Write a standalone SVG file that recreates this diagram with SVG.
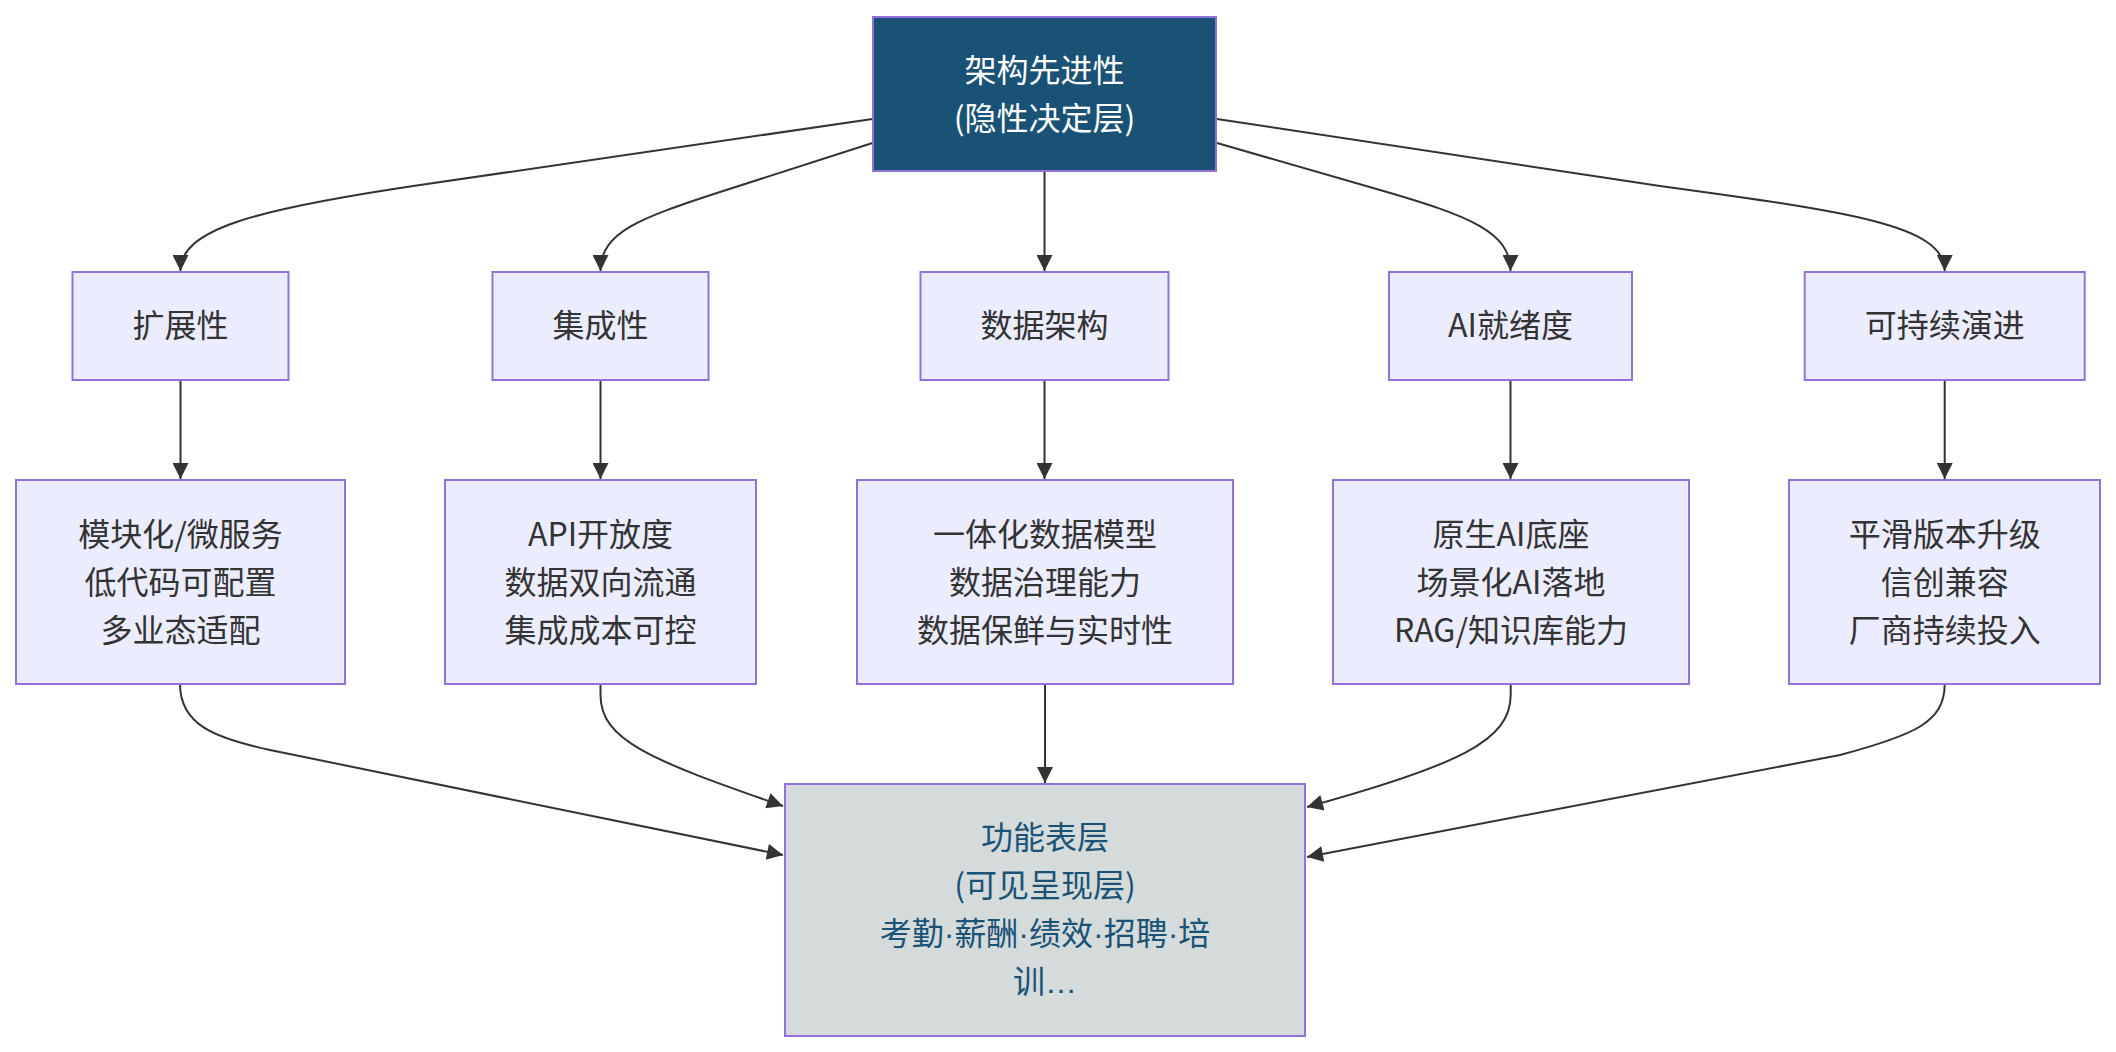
<svg xmlns="http://www.w3.org/2000/svg" width="2116" height="1052" viewBox="0 0 2116 1052">
<style>
.bg{fill:#ffffff}
.n rect{fill:#ECECFF;stroke:#9370DB;stroke-width:2}
.n text{fill:#333333}
.top rect{fill:#1a5276;stroke:#9370DB;stroke-width:2}
.top text{fill:#ffffff}
.bot rect{fill:#d5dbdb;stroke:#9370DB;stroke-width:2}
.bot text{fill:#1a5276}
text{font-family:"Noto Sans CJK SC","Noto Sans",sans-serif;font-size:32px;text-anchor:middle}
.p{font-family:"Liberation Sans",sans-serif}
.e path{fill:none;stroke:#333333;stroke-width:2;marker-end:url(#arr)}
</style>
<defs>
<marker id="arr" viewBox="0 0 10 10" refX="10" refY="5" markerUnits="userSpaceOnUse" markerWidth="17" markerHeight="16" orient="auto">
<path d="M0,0 L10,5 L0,10 z" fill="#333333"/>
</marker>
</defs>
<rect class="bg" x="0" y="0" width="2116" height="1052"/>
<g class="e" id="connectors">
<path d="M872.5,119 L420,185 C250,210 180.5,230 180.5,271"/>
<path d="M872.5,143 L720,192 C640,218 600.5,232 600.5,271"/>
<path d="M1044.5,172 L1044.5,271"/>
<path d="M1217,143 L1380,190 C1470,216 1510.5,232 1510.5,271"/>
<path d="M1217,119 L1660,186 C1850,212 1944.7,225 1944.7,271"/>
<path d="M180.5,380 L180.5,479"/>
<path d="M600.5,380 L600.5,479"/>
<path d="M1044.5,380 L1044.5,479"/>
<path d="M1510.5,380 L1510.5,479"/>
<path d="M1944.7,380 L1944.7,479"/>
<path d="M180,684 C180,725 215,738 270,750 L783,855"/>
<path d="M600.5,684 L600.5,695 C600.5,740 650,760 783,806"/>
<path d="M1045,684 L1045,783"/>
<path d="M1510.7,684 L1510.7,695 C1510.7,740 1460,765 1307,807"/>
<path d="M1944.7,684 C1944.7,722 1915,735 1840,755 L1307,857"/>
</g>
<g class="top" id="root">
<rect x="873" y="17" width="343" height="154"/>
<text x="1044.5" y="82">架构先进性</text>
<text x="1044.5" y="130">(隐性决定层)</text>
</g>
<g class="n" id="ext">
<rect x="72.5" y="272" width="216" height="108"/>
<text x="180.5" y="337">扩展性</text>
</g>
<g class="n" id="integ">
<rect x="492.5" y="272" width="216" height="108"/>
<text x="600.5" y="337">集成性</text>
</g>
<g class="n" id="data">
<rect x="920.5" y="272" width="248" height="108"/>
<text x="1044.5" y="337">数据架构</text>
</g>
<g class="n" id="ai">
<rect x="1389" y="272" width="243" height="108"/>
<text x="1510.5" y="337">AI就绪度</text>
</g>
<g class="n" id="evo">
<rect x="1804.7" y="272" width="280" height="108"/>
<text x="1944.7" y="337">可持续演进</text>
</g>
<g class="n" id="ext2">
<rect x="16" y="480" width="329" height="204"/>
<text x="180.5" y="546">模块化/微服务</text>
<text x="180.5" y="594">低代码可配置</text>
<text x="180.5" y="642">多业态适配</text>
</g>
<g class="n" id="integ2">
<rect x="445" y="480" width="311" height="204"/>
<text x="600.5" y="546">API开放度</text>
<text x="600.5" y="594">数据双向流通</text>
<text x="600.5" y="642">集成成本可控</text>
</g>
<g class="n" id="data2">
<rect x="857" y="480" width="376" height="204"/>
<text x="1045" y="546">一体化数据模型</text>
<text x="1045" y="594">数据治理能力</text>
<text x="1045" y="642">数据保鲜与实时性</text>
</g>
<g class="n" id="ai2">
<rect x="1333" y="480" width="356" height="204"/>
<text x="1511" y="546">原生AI底座</text>
<text x="1511" y="594">场景化AI落地</text>
<text x="1511" y="642">RAG/知识库能力</text>
</g>
<g class="n" id="evo2">
<rect x="1789" y="480" width="311" height="204"/>
<text x="1944.7" y="546">平滑版本升级</text>
<text x="1944.7" y="594">信创兼容</text>
<text x="1944.7" y="642">厂商持续投入</text>
</g>
<g class="bot" id="func">
<rect x="785" y="784" width="520" height="252"/>
<text x="1045" y="849">功能表层</text>
<text x="1045" y="897">(可见呈现层)</text>
<text x="1045" y="945">考勤<tspan class="p">·</tspan>薪酬<tspan class="p">·</tspan>绩效<tspan class="p">·</tspan>招聘<tspan class="p">·</tspan>培</text>
<text x="1045" y="993">训<tspan class="p">…</tspan></text>
</g>
</svg>
